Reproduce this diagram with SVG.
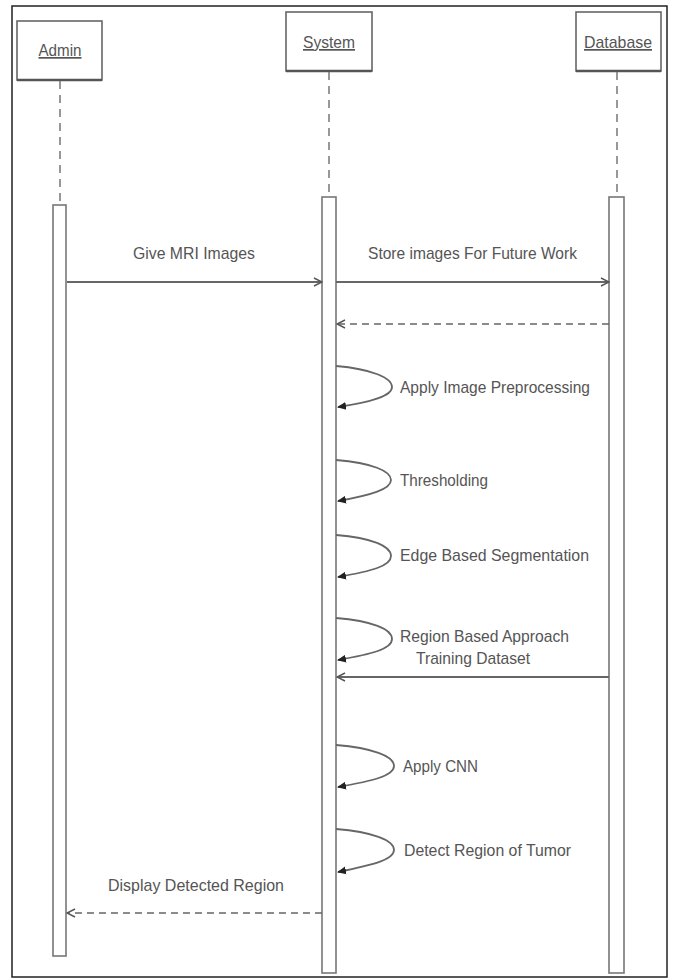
<svg xmlns="http://www.w3.org/2000/svg" width="674" height="980" viewBox="0 0 674 980">
<defs>
<style>
.frame{fill:#fff;stroke:#222;stroke-width:1.5}
.box{fill:#fff;stroke:#666;stroke-width:1.6}
.boxb{stroke:#555;stroke-width:2.4}
.life{stroke:#777;stroke-width:1.5;stroke-dasharray:8 6;fill:none}
.bar{fill:#fff;stroke:#777;stroke-width:1.6}
.msg{stroke:#666;stroke-width:1.8;fill:none}
.ret{stroke:#666;stroke-width:1.6;fill:none;stroke-dasharray:7 5}
.loop{stroke:#666;stroke-width:1.8;fill:none}
.lbl{font-family:"Liberation Sans",Arial,sans-serif;font-size:17px;fill:#555}
.act{font-family:"Liberation Sans",Arial,sans-serif;font-size:17px;fill:#555;text-decoration:underline}
</style>
<marker id="open" markerWidth="10" markerHeight="10" refX="9" refY="5" orient="auto" markerUnits="userSpaceOnUse">
<path d="M1,1 L9,5 L1,9" fill="none" stroke="#555" stroke-width="1.4"/>
</marker>
<marker id="fill" markerWidth="10" markerHeight="10" refX="8" refY="5" orient="auto" markerUnits="userSpaceOnUse">
<path d="M0,1 L9,5 L0,9 Z" fill="#222"/>
</marker>
</defs>
<rect class="frame" x="12" y="6" width="655" height="971"/>

<g id="admin">
<rect class="box" x="17" y="21" width="85" height="59"/>
<line class="boxb" x1="17" y1="80" x2="102" y2="80"/>
<text class="act" x="60" y="56" text-anchor="middle" textLength="43" lengthAdjust="spacingAndGlyphs">Admin</text>
<line class="life" x1="60" y1="81" x2="60" y2="205"/>
<rect class="bar" x="53" y="205" width="13" height="751"/>
</g>

<g id="system">
<rect class="box" x="286" y="12" width="86" height="59"/>
<line class="boxb" x1="286" y1="71" x2="372" y2="71"/>
<text class="act" x="329" y="48" text-anchor="middle" textLength="52" lengthAdjust="spacingAndGlyphs">System</text>
<line class="life" x1="329" y1="72" x2="329" y2="197"/>
<rect class="bar" x="322" y="197" width="14" height="776"/>
</g>

<g id="database">
<rect class="box" x="576" y="12" width="85" height="59"/>
<line class="boxb" x1="576" y1="71" x2="661" y2="71"/>
<text class="act" x="618" y="48" text-anchor="middle" textLength="68" lengthAdjust="spacingAndGlyphs">Database</text>
<line class="life" x1="617" y1="72" x2="617" y2="197"/>
<rect class="bar" x="609" y="197" width="15" height="776"/>
</g>

<g id="connectors">
<line class="msg" x1="67" y1="282" x2="322" y2="282" marker-end="url(#open)"/>
<text class="lbl" x="133" y="259" textLength="122" lengthAdjust="spacingAndGlyphs">Give MRI Images</text>

<line class="msg" x1="336" y1="282" x2="609" y2="282" marker-end="url(#open)"/>
<text class="lbl" x="368" y="259" textLength="209" lengthAdjust="spacingAndGlyphs">Store images For Future Work</text>

<line class="ret" x1="609" y1="324" x2="337" y2="324" marker-end="url(#open)"/>

<path class="loop" d="M336,366 C372,369 392,378 392,387 C392,396 372,402 338,407" marker-end="url(#fill)"/>
<text class="lbl" x="400" y="393" textLength="190" lengthAdjust="spacingAndGlyphs">Apply Image Preprocessing</text>

<path class="loop" d="M336,460 C372,463 391,471 391,480 C391,489 372,495 338,501" marker-end="url(#fill)"/>
<text class="lbl" x="400" y="486" textLength="88" lengthAdjust="spacingAndGlyphs">Thresholding</text>

<path class="loop" d="M336,535 C372,538 391,546 391,556 C391,566 372,571 338,577" marker-end="url(#fill)"/>
<text class="lbl" x="400" y="561" textLength="189" lengthAdjust="spacingAndGlyphs">Edge Based  Segmentation</text>

<path class="loop" d="M336,618 C372,621 392,629 392,639 C392,649 372,654 338,660" marker-end="url(#fill)"/>
<text class="lbl" x="400" y="642" textLength="169" lengthAdjust="spacingAndGlyphs">Region Based Approach</text>

<line class="msg" x1="609" y1="677" x2="337" y2="677" marker-end="url(#open)"/>
<text class="lbl" x="416" y="664" textLength="114" lengthAdjust="spacingAndGlyphs">Training Dataset</text>

<path class="loop" d="M336,745 C372,748 394,756 394,766 C394,776 372,781 338,787" marker-end="url(#fill)"/>
<text class="lbl" x="403" y="772" textLength="75" lengthAdjust="spacingAndGlyphs">Apply CNN</text>

<path class="loop" d="M336,829 C372,832 394,840 394,850 C394,860 372,865 338,872" marker-end="url(#fill)"/>
<text class="lbl" x="404" y="856" textLength="167" lengthAdjust="spacingAndGlyphs">Detect Region of Tumor</text>

<line class="ret" x1="322" y1="913" x2="67" y2="913" marker-end="url(#open)"/>
<text class="lbl" x="108" y="891" textLength="176" lengthAdjust="spacingAndGlyphs">Display Detected Region</text>
</g>
</svg>
